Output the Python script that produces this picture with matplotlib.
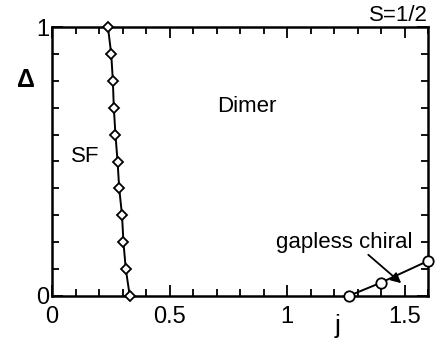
import matplotlib
matplotlib.use("Agg")
import matplotlib.pyplot as plt
from matplotlib.ticker import MultipleLocator, FixedLocator

plt.rcParams['font.family'] = ['Liberation Sans', 'DejaVu Sans']

# SF / Dimer boundary
sf_delta = [0.0, 0.1, 0.2, 0.3, 0.4, 0.5, 0.6, 0.7, 0.8, 0.9, 1.0]
sf_j = [0.331, 0.314, 0.304, 0.298, 0.286, 0.279, 0.270, 0.263, 0.259, 0.252, 0.238]

# gapless chiral boundary
ch_j = [1.262, 1.398, 1.599]
ch_delta = [0.0, 0.049, 0.130]

x_ticks = [0, 0.5, 1, 1.5]
x_tick_labels = ['0', '0.5', '1', '1.5']
y_ticks = [0, 1]
y_tick_labels = ['0', '1']

fig = plt.figure(figsize=(4.37, 3.45), dpi=100)
ax = fig.add_axes([52/437, 1 - 296/345, (428-52)/437, (296-27)/345])

ax.plot(sf_j, sf_delta, color='black', lw=1.4, marker='D', ms=5.5,
        mfc='white', mec='black', mew=1.3, clip_on=False, zorder=3)
ax.plot(ch_j, ch_delta, color='black', lw=1.4, marker='o', ms=7.5,
        mfc='white', mec='black', mew=1.3, clip_on=False, zorder=3)

ax.set_xlim(0, 1.6)
ax.set_ylim(0, 1)

ax.xaxis.set_major_locator(FixedLocator(x_ticks))
ax.set_xticklabels(x_tick_labels)
ax.xaxis.set_minor_locator(MultipleLocator(0.1))
ax.yaxis.set_major_locator(FixedLocator(y_ticks))
ax.set_yticklabels(y_tick_labels)
ax.yaxis.set_minor_locator(MultipleLocator(0.1))

ax.tick_params(which='both', direction='in', top=True, right=True, width=1.3)
ax.tick_params(which='major', length=8, labelsize=17)
ax.tick_params(axis='x', which='major', pad=7)
ax.tick_params(axis='y', which='major', pad=2)
ax.tick_params(which='minor', length=5)
for s in ax.spines.values():
    s.set_linewidth(1.8)

ax.text(0.141, 0.518, 'SF', fontsize=16, ha='center', va='center')
ax.text(0.828, 0.704, 'Dimer', fontsize=16, ha='center', va='center')
ax.text(1.245, 0.20, 'gapless chiral', fontsize=16, ha='center', va='center')
ax.annotate('', xy=(1.495, 0.041), xytext=(1.337, 0.160),
            arrowprops=dict(arrowstyle='-|>', color='black', lw=1.3,
                            mutation_scale=15))

ax.text(1.0, 1.005, 'S=1/2', fontsize=16, ha='right', va='bottom',
        transform=ax.transAxes)
fig.text(25.7/437, 1 - 80/345, 'Δ', fontsize=18, ha='center', va='center',
         fontweight='bold')
fig.text(338/437, 1 - 326/345, 'j', fontsize=19, ha='center', va='center')

fig.savefig('out.png', dpi=100)
